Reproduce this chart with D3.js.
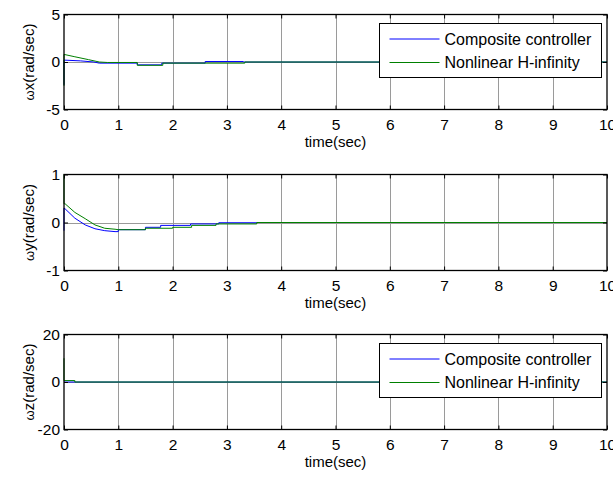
<!DOCTYPE html>
<html>
<head>
<meta charset="utf-8">
<script src="https://cdn.jsdelivr.net/npm/d3@7"></script>
<style>
  body { margin: 0; background: #fff; }
  text { font-family: Arial, "Liberation Sans", sans-serif; fill: #000; }
</style>
</head>
<body>
<div id="chart"></div>
<script>
// time axis ticks shared by all panels
const timeTicks = [0, 1, 2, 3, 4, 5, 6, 7, 8, 9, 10];

// series names for the legend
const seriesNames = ['Composite controller', 'Nonlinear H-infinity'];

// wx response: [time, value]
const wxComposite = [[0, -2.4], [0, 0.2], [0.3, 0.12], [0.55, 0.0], [0.65, -0.12], [1.35, -0.12], [1.35, -0.3],
  [1.8, -0.3], [1.8, -0.12], [2.6, -0.12], [2.6, 0.05], [3.3, 0.05], [3.3, 0], [10, 0]];
const wxHinf = [[0, -2.5], [0, 0.8], [0.2, 0.55], [0.45, 0.25], [0.65, 0.0], [0.8, -0.05], [1.35, -0.05],
  [1.35, -0.35], [1.82, -0.35], [1.82, -0.12], [3.33, -0.12], [3.33, 0], [10, 0]];

// wy response
const wyComposite = [[0, -0.17], [0, 0.3], [0.02, 0.285], [0.2, 0.09], [0.39, -0.05], [0.57, -0.13], [0.75, -0.17],
  [0.94, -0.19], [1.0, -0.19], [1.0, -0.15], [1.5, -0.15], [1.5, -0.1], [1.78, -0.1], [1.78, -0.06],
  [2.33, -0.06], [2.33, -0.03], [2.85, -0.03], [2.85, -0.005], [3.55, -0.005], [3.55, 0], [10, 0]];
const wyHinf = [[0, 1], [0, 0.39], [0.02, 0.39], [0.2, 0.21], [0.39, 0.08], [0.57, -0.05], [0.75, -0.12],
  [0.94, -0.14], [1.0, -0.15], [1.5, -0.15], [1.5, -0.12], [2.0, -0.12], [2.0, -0.1], [2.35, -0.1],
  [2.35, -0.06], [2.8, -0.06], [2.8, -0.03], [3.55, -0.03], [3.55, 0], [10, 0]];

// wz response
const wzComposite = [[0, 0], [10, 0]];
const wzHinf = [[0, 10], [0, 0.6], [0.2, 0.6], [0.2, 0], [10, 0]];

// y ticks per panel
const wxTicks = [-5, 0, 5];
const wyTicks = [-1, 0, 1];
const wzTicks = [-20, 0, 20];

const panels = [
  { top: 14.5, height: 95, ticks: wxTicks, axis: 'x', series: [wxComposite, wxHinf], legend: true },
  { top: 174.5, height: 96, ticks: wyTicks, axis: 'y', series: [wyComposite, wyHinf], legend: false },
  { top: 334.5, height: 95, ticks: wzTicks, axis: 'z', series: [wzComposite, wzHinf], legend: true }
];

const colors = ['#0000ff', '#008000'];
const left = 64, right = 607;
const fmt = d => String(d);   // plain hyphen minus, like the original

const svg = d3.select('#chart').append('svg')
    .attr('width', 613)
    .attr('height', 477);

const x = d3.scaleLinear().domain([0, 10]).range([left, right]);

panels.forEach(p => {
  const y = d3.scaleLinear()
      .domain([p.ticks[0], p.ticks[p.ticks.length - 1]])
      .range([p.top + p.height, p.top]);

  const g = svg.append('g');

  // grid lines
  g.selectAll('.vgrid')
      .data(timeTicks.slice(1, -1))
    .join('line')
      .attr('x1', d => Math.round(x(d)) + 0.5)
      .attr('x2', d => Math.round(x(d)) + 0.5)
      .attr('y1', p.top)
      .attr('y2', p.top + p.height)
      .attr('stroke', '#9a9a9a')
      .attr('stroke-width', 1);
  g.selectAll('.hgrid')
      .data(p.ticks.slice(1, -1))
    .join('line')
      .attr('x1', left)
      .attr('x2', right)
      .attr('y1', d => Math.round(y(d)) + 0.5)
      .attr('y2', d => Math.round(y(d)) + 0.5)
      .attr('stroke', '#9a9a9a')
      .attr('stroke-width', 1);

  // data lines
  const line = d3.line().x(d => x(d[0])).y(d => y(d[1]));
  p.series.forEach((s, i) => {
    g.append('path')
        .datum(s)
        .attr('d', line)
        .attr('fill', 'none')
        .attr('stroke', colors[i])
        .attr('stroke-width', 1);
  });

  // axes with inside ticks
  const bottom = g.append('g')
      .attr('transform', `translate(0,${p.top + p.height})`)
      .call(d3.axisBottom(x).tickValues(timeTicks).tickSizeInner(-4).tickSizeOuter(0).tickPadding(9).tickFormat(fmt));
  const topAx = g.append('g')
      .attr('transform', `translate(0,${p.top})`)
      .call(d3.axisTop(x).tickValues(timeTicks).tickSizeInner(-4).tickSizeOuter(0).tickFormat(''));
  const leftAx = g.append('g')
      .attr('transform', `translate(${left},0)`)
      .call(d3.axisLeft(y).tickValues(p.ticks).tickSizeInner(-4).tickSizeOuter(0).tickPadding(4).tickFormat(fmt));
  const rightAx = g.append('g')
      .attr('transform', `translate(${right},0)`)
      .call(d3.axisRight(y).tickValues(p.ticks).tickSizeInner(-4).tickSizeOuter(0).tickFormat(''));

  [bottom, topAx, leftAx, rightAx].forEach(a => {
    a.select('.domain').remove();
    a.selectAll('line').attr('stroke', '#000');
    a.selectAll('text').attr('font-size', 15.5).attr('font-family', 'Arial, "Liberation Sans", sans-serif');
  });

  // frame
  g.append('rect')
      .attr('x', left)
      .attr('y', p.top)
      .attr('width', right - left)
      .attr('height', p.height)
      .attr('fill', 'none')
      .attr('stroke', '#000')
      .attr('stroke-width', 1.3);

  // axis titles
  g.append('text')
      .attr('x', (left + right) / 2)
      .attr('y', p.top + p.height + 37)
      .attr('text-anchor', 'middle')
      .attr('font-size', 15)
      .text('time(sec)');

  const yl = g.append('text')
      .attr('transform', `translate(34,${p.top + p.height / 2}) rotate(-90)`)
      .attr('text-anchor', 'middle')
      .attr('font-size', 15);
  yl.append('tspan').attr('font-size', 13).text('ω');
  yl.append('tspan').text(`${p.axis}(rad/sec)`);

  // legend
  if (p.legend) {
    const lg = g.append('g').attr('transform', `translate(379.5,${p.top + 9})`);
    lg.append('rect')
        .attr('width', 222)
        .attr('height', 54)
        .attr('fill', '#fff')
        .attr('stroke', '#000')
        .attr('stroke-width', 1);
    seriesNames.forEach((name, i) => {
      const ly = 15.5 + i * 23.5;
      lg.append('line')
          .attr('x1', 10).attr('x2', 60)
          .attr('y1', ly).attr('y2', ly)
          .attr('stroke', colors[i])
          .attr('stroke-width', 1);
      lg.append('text')
          .attr('x', 65)
          .attr('y', ly + 5.5)
          .attr('font-size', 16)
          .text(name);
    });
  }
});
</script>
</body>
</html>
